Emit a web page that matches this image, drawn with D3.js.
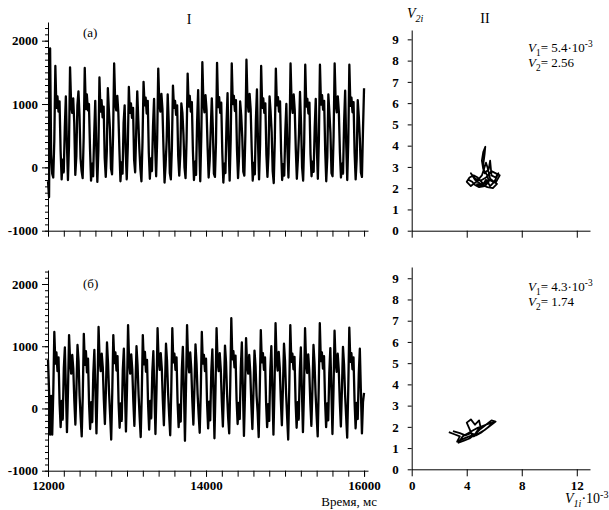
<!DOCTYPE html>
<html>
<head>
<meta charset="utf-8">
<script src="https://cdn.jsdelivr.net/npm/d3@7"></script>
<style>
  body { margin: 0; background: #fff; }
  svg { font-family: "Liberation Serif", "DejaVu Serif", serif; }
  .axis path, .axis line { stroke: #000; }
</style>
</head>
<body>
<svg id="chart" width="609" height="510"></svg>
<script>
var timeTicks = [12000, 14000, 16000];
var ampTicks = [-1000, 0, 1000, 2000];
var phaseXTicks = [0, 4, 8, 12];
var phaseYTicks = [0, 1, 2, 3, 4, 5, 6, 7, 8, 9];

// panel (а): signal, samples evenly spread over 12000..16000 ms
var seriesA = [
  -220, -470, 1880, 200, -100,
  -160, 420, 1600, 940, 1120, 880, 1040, 260, -190, 120, -80, 620, 1120, 380,
  -200, 350, 1580, 1010, 860, 1090, 700, -120, 180, 980, 1200, 820, 140, -60,
  -170, 480, 1570, 920, 1150, 900, 1000, 300, -210, 60, -140, 520, 1050, 300,
  -230, 280, 1420, 880, 1060, 790, 960, 150, -150, 250, 1250, 900, 600, -20,
  -110, 520, 1640, 1020, 900, 1130, 860, 280, -220, 80, -100, 700, 980, 250,
  -190, 330, 1270, 860, 1010, 780, 940, 120, -80, 560, 1200, 740, 300, -30,
  -220, 400, 1350, 980, 1100, 850, 1050, 230, -180, 140, -60, 640, 1080, 350,
  -140, 460, 1560, 1000, 880, 1160, 920, 300, -240, 40, 420, 1150, 700, -90,
  -190, 320, 1290, 940, 1050, 830, 980, 180, -130, 200, 1010, 860, 520, 0,
  -170, 450, 1480, 960, 1130, 880, 1030, 260, -200, 90, -120, 720, 1220, 420,
  -220, 490, 1660, 1030, 870, 1140, 910, 320, -160, 110, 600, 1090, 610, -100,
  -150, 400, 1650, 950, 1110, 860, 1020, 230, -240, 60, -90, 680, 1170, 360,
  -210, 440, 1640, 1000, 1130, 890, 1060, 270, -170, 180, 1040, 820, 480, -70,
  -130, 530, 1700, 1040, 880, 1160, 920, 290, -210, 70, -110, 750, 1230, 400,
  -190, 370, 1600, 940, 1090, 860, 1010, 200, -150, 220, 1120, 880, 560, -60,
  -250, 430, 1560, 980, 1110, 880, 1040, 250, -200, 50, -130, 560, 1000, 300,
  -160, 470, 1640, 1010, 860, 1150, 900, 280, -180, 130, 520, 1190, 690, 0,
  -210, 400, 1620, 960, 1080, 850, 1020, 210, -140, 90, -70, 620, 1080, 330,
  -180, 450, 1620, 990, 1140, 910, 1050, 270, -220, 160, 1150, 860, 540, -90,
  -140, 490, 1640, 1010, 870, 1120, 880, 240, -160, 60, -100, 710, 1210, 380,
  -200, 420, 1620, 970, 1100, 870, 1030, 230, -190, 140, 1060, 800, 450, -80,
  -150, 600, 1250
];

// panel (б)
var seriesB = [
  780, 300, -420, 200,
  -420, 250, 1230, 720, 900, 600, 820, 80, -300, 120, -180, 640, 980, 300,
  -380, 300, 1180, 760, 560, 860, 640, 120, -260, 320, 1020, 760, 200, -150,
  -450, 200, 1200, 700, 920, 580, 800, 60, -330, 100, -220, 560, 940, 280,
  -400, 350, 1310, 780, 600, 880, 660, 140, -250, 300, 1060, 720, 240, -120,
  -500, 260, 1180, 730, 900, 610, 840, 90, -310, 80, -200, 620, 960, 300,
  -370, 320, 1340, 750, 560, 870, 630, 110, -280, 340, 1000, 700, 220, -140,
  -460, 220, 1180, 710, 910, 590, 780, 70, -340, 120, -160, 580, 920, 260,
  -410, 300, 1290, 770, 620, 890, 650, 130, -270, 310, 1040, 760, 250, -110,
  -430, 280, 1290, 740, 880, 620, 820, 100, -300, 60, -210, 610, 990, 320,
  -520, 340, 1340, 760, 580, 900, 640, 120, -260, 330, 1030, 720, 230, -100,
  -390, 250, 1230, 720, 860, 600, 800, 80, -320, 110, -190, 590, 950, 280,
  -480, 300, 1290, 750, 600, 890, 630, 110, -290, 300, 1010, 740, 220, -150,
  -400, 380, 1450, 790, 920, 660, 850, 140, -250, 90, -170, 650, 1060, 330,
  -440, 240, 1130, 700, 560, 860, 590, 70, -330, 250, 930, 680, 200, -60,
  -460, 290, 1260, 740, 890, 620, 820, 100, -300, 70, -200, 600, 1000, 300,
  -420, 330, 1370, 770, 610, 910, 650, 130, -270, 320, 1040, 760, 240, -140,
  -500, 310, 1340, 750, 880, 630, 830, 110, -310, 100, -180, 590, 980, 290,
  -380, 270, 1290, 730, 570, 870, 610, 90, -280, 310, 1020, 720, 230, -120,
  -450, 340, 1370, 760, 900, 640, 840, 120, -300, 80, -190, 570, 970, 300,
  -410, 280, 1250, 740, 590, 880, 620, 100, -290, 300, 990, 710, 220, -130,
  -470, 300, 1300, 750, 890, 630, 820, 110, -320, 90, -170, 560, 960, 270,
  -400, 100, 250
];

// phase portraits (V1i*10^-3, V2i)
var phaseAx = [4.1, 4.4, 4.6, 4.9, 5.3, 5.6, 5.5, 5.2, 5.1, 5.2, 5.35, 5.3, 5.2, 5.3, 5.6, 5.7,
               5.8, 6.1, 6.3, 6.0, 5.7, 5.4, 5.2, 4.8, 4.5, 4.2, 4.0, 4.3, 4.7, 5.1, 5.4, 5.5,
               5.7, 6.2, 5.9, 5.5, 5.0, 4.6, 4.3, 4.6, 5.0, 5.4, 5.8, 6.4, 6.1, 5.6, 5.1, 4.7];
var phaseAy = [2.4, 2.3, 2.15, 2.05, 2.1, 2.3, 2.6, 2.9, 3.3, 3.7, 3.95, 3.6, 3.1, 2.7, 2.9, 3.3,
               2.6, 2.5, 2.7, 2.3, 2.1, 2.4, 2.2, 2.5, 2.6, 2.5, 2.3, 2.1, 2.3, 2.6, 3.2, 3.0,
               2.45, 2.2, 2.0, 2.05, 2.2, 2.4, 2.7, 2.45, 2.35, 2.5, 2.8, 2.6, 2.25, 2.4, 2.1, 2.2];
var phaseBx = [2.7, 3.1, 3.5, 3.3, 3.6, 4.0, 4.4, 4.2, 4.0, 4.3, 4.6, 4.9, 5.0, 4.7, 4.5, 4.9,
               5.3, 5.7, 6.1, 5.8, 5.4, 5.0, 4.6, 4.2, 3.8, 3.4, 3.7, 4.1, 4.5, 4.8, 5.2, 5.6,
               5.9, 5.5, 5.1, 4.7, 4.3, 3.9, 3.5, 3.0];
var phaseBy = [1.75, 1.65, 1.55, 1.3, 1.4, 1.5, 1.6, 1.9, 2.2, 2.35, 2.1, 2.3, 2.0, 1.75, 1.55, 1.7,
               1.85, 2.05, 2.25, 2.3, 2.1, 1.9, 1.65, 1.45, 1.35, 1.25, 1.55, 1.7, 1.85, 1.95, 2.05, 2.15,
               2.2, 1.95, 1.75, 1.6, 1.7, 1.6, 1.7, 1.8];

var svg = d3.select("#chart");

/*
 * serif tick labels instead of the d3 defaults
 */
function styleAxis(g) {
    g.attr("font-family", null).attr("font-size", null);
    g.selectAll("text")
        .attr("font-family", "Liberation Serif")
        .attr("font-size", 13)
        .attr("font-weight", "bold")
        .attr("fill", "#000");
    return g;
}

/*
 * text made of pieces: {t, it (italic), sub, sup}
 */
function richText(x, y, parts, size) {
    var txt = svg.append("text")
        .attr("x", x)
        .attr("y", y)
        .attr("font-size", size);
    var shift = 0;
    parts.forEach(function(p) {
        var want = p.sub ? 4 : (p.sup ? -5 : 0);
        txt.append("tspan")
            .attr("dy", want - shift)
            .attr("font-size", (p.sub || p.sup) ? size * 0.72 : size)
            .attr("font-style", p.it ? "italic" : "normal")
            .text(p.t);
        shift = want;
    });
    return txt;
}

/*
 * time-series panel
 */
function drawSignal(values, yTop, yBottom, topValue, showLabels) {
    var x = d3.scaleLinear().domain([12000, 16050]).range([48, 368]),
        y = d3.scaleLinear().domain([-1000, topValue]).range([yBottom, yTop]),
        step = 4000 / (values.length - 1),
        g = svg.append("g");

    g.append("g").attr("class", "axis")
        .attr("transform", "translate(0," + yBottom + ")")
        .call(d3.axisBottom(x).tickValues(d3.range(12000, 16001, 200))
            .tickSize(6).tickSizeOuter(0).tickFormat(""));

    if (showLabels) {
        g.append("g").attr("class", "axis")
            .attr("transform", "translate(0," + yBottom + ")")
            .call(d3.axisBottom(x).tickValues(timeTicks)
                .tickSize(6).tickPadding(4).tickSizeOuter(0).tickFormat(d3.format("d")))
            .call(styleAxis)
            .select(".domain").remove();
    }

    g.append("g").attr("class", "axis")
        .attr("transform", "translate(48,0)")
        .call(d3.axisLeft(y).tickValues(d3.range(-1000, topValue, 100))
            .tickSize(3).tickSizeOuter(0).tickFormat(""));

    g.append("g").attr("class", "axis")
        .attr("transform", "translate(48,0)")
        .call(d3.axisLeft(y).tickValues(ampTicks)
            .tickSize(6).tickPadding(4).tickSizeOuter(0)
            .tickFormat(function(d) { return String(d); }))
        .call(styleAxis)
        .select(".domain").remove();

    g.append("path")
        .datum(values)
        .attr("fill", "none")
        .attr("stroke", "#000")
        .attr("stroke-width", 2.3)
        .attr("stroke-linejoin", "round")
        .attr("d", d3.line()
            .x(function(d, i) { return x(12000 + i * step); })
            .y(function(d) { return y(d); }));
}

/*
 * phase portrait panel
 */
function drawPhase(xs, ys, yTop, yBottom, topValue, showLabels) {
    var x = d3.scaleLinear().domain([0, 12.96]).range([411.7, 590]),
        y = d3.scaleLinear().domain([0, topValue]).range([yBottom, yTop]),
        g = svg.append("g");

    g.append("g").attr("class", "axis")
        .attr("transform", "translate(0," + yBottom + ")")
        .call(d3.axisBottom(x).tickValues(phaseXTicks)
            .tickSize(7).tickPadding(4).tickSizeOuter(0)
            .tickFormat(showLabels ? d3.format("d") : ""))
        .call(styleAxis);

    g.append("g").attr("class", "axis")
        .attr("transform", "translate(411.7,0)")
        .call(d3.axisLeft(y).tickValues(phaseYTicks)
            .tickSize(4).tickPadding(9).tickSizeOuter(0).tickFormat(d3.format("d")))
        .call(styleAxis);

    g.append("path")
        .datum(d3.range(xs.length))
        .attr("fill", "none")
        .attr("stroke", "#000")
        .attr("stroke-width", 1.8)
        .attr("stroke-linejoin", "round")
        .attr("d", d3.line()
            .x(function(i) { return x(xs[i]); })
            .y(function(i) { return y(ys[i]); }));
}

drawSignal(seriesA, 22, 230.7, 2295, false);
drawSignal(seriesB, 270, 470.7, 2225, true);
drawPhase(phaseAx, phaseAy, 30, 230.7, 9.44, false);
drawPhase(phaseBx, phaseBy, 267, 469.3, 9.53, true);

// labels
svg.append("text").attr("x", 189).attr("y", 24).attr("font-size", 14)
    .attr("text-anchor", "middle").text("I");
svg.append("text").attr("x", 485).attr("y", 23).attr("font-size", 14)
    .attr("text-anchor", "middle").text("II");
svg.append("text").attr("x", 83).attr("y", 37).attr("font-size", 13).text("(а)");
svg.append("text").attr("x", 83).attr("y", 288).attr("font-size", 13).text("(б)");
svg.append("text").attr("x", 377).attr("y", 506).attr("font-size", 13)
    .attr("text-anchor", "end").text("Время, мс");

richText(407, 18, [{t: "V", it: true}, {t: "2i", it: true, sub: true}], 14);
richText(565, 503, [{t: "V", it: true}, {t: "1i", it: true, sub: true}, {t: "·10"}, {t: "-3", sup: true}], 14);

richText(528, 52, [{t: "V", it: true}, {t: "1", sub: true}, {t: "= 5.4·10"}, {t: "-3", sup: true}], 13);
richText(528, 67, [{t: "V", it: true}, {t: "2", sub: true}, {t: "= 2.56"}], 13);
richText(528, 291, [{t: "V", it: true}, {t: "1", sub: true}, {t: "= 4.3·10"}, {t: "-3", sup: true}], 13);
richText(528, 306, [{t: "V", it: true}, {t: "2", sub: true}, {t: "= 1.74"}], 13);
</script>
</body>
</html>
